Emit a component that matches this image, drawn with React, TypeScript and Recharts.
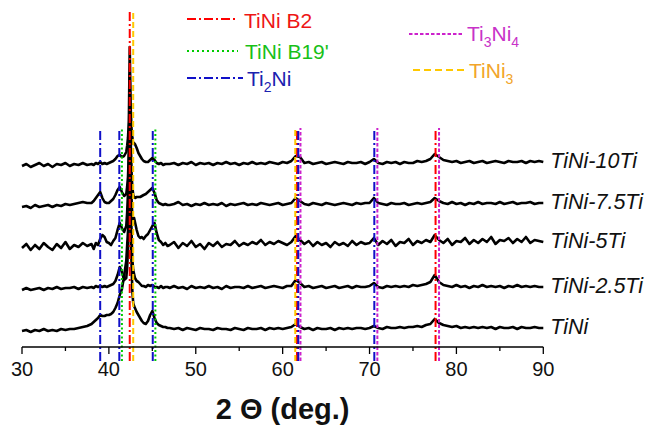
import React from 'react';
import { ComposedChart, Line, XAxis, YAxis, ReferenceLine, Legend, Label } from 'recharts';

// 2θ positions (deg.)
const twoTheta = [
  30, 30.5, 31, 31.5, 32, 32.5, 33, 33.5, 34, 34.5, 35, 35.5, 36, 36.5, 37, 37.5,
  38, 38.25, 38.5, 38.75, 39, 39.25, 39.5, 39.75, 40, 40.25, 40.5, 40.75, 41, 41.25, 41.5, 41.75,
  42, 42.1, 42.2, 42.3, 42.4, 42.5, 42.6, 42.7, 42.8, 42.9, 43, 43.2, 43.4, 43.6, 43.8,
  44, 44.25, 44.5, 44.75, 45, 45.25, 45.5, 45.75, 46, 46.25, 46.5, 46.75,
  47, 47.5, 48, 48.5, 49, 49.5, 50, 50.5, 51, 51.5,
  52, 52.5, 53, 53.5, 54, 54.5, 55, 55.5, 56, 56.5,
  57, 57.5, 58, 58.5, 59, 59.5, 60, 60.5, 61,
  61.5, 62,
  62.5, 63, 63.5, 64, 64.5, 65, 65.5, 66, 66.5,
  67, 67.5, 68, 68.5, 69, 69.5, 70,
  70.5,
  71, 71.5, 72, 72.5, 73, 73.5, 74, 74.5, 75, 75.5, 76, 76.5, 77,
  77.5, 78,
  78.5, 79, 79.5, 80, 80.5, 81, 81.5, 82, 82.5, 83, 83.5, 84, 84.5, 85, 85.5, 86, 86.5, 87, 87.5, 88, 88.5, 89, 89.5, 90,
];

// intensities (a.u., relative to each pattern's own baseline)
const tiNi10Ti = [
  0, 2, -1, 1, 3, 0, 2, -1, 2, 1, 3, 0, 2, 1, 3, 1,
  2, 1, 3, 2, 4, 2, 3, 2, 3, 4, 5, 7, 10, 11, 9, 10,
  14, 20, 28, 45, 119, 60, 38, 28, 22, 23, 22, 18, 13, 10, 7,
  5, 4, 4, 6, 8, 6, 3, 2, 3, 1, 2, 2,
  2, 3, 1, 3, 2, 4, 1, 3, 2, 3,
  1, 3, 2, 4, 2, 3, 1, 3, 2, 4,
  2, 3, 2, 4, 3, 2, 4, 3, 5,
  10, 9,
  3, 4, 2, 3, 4, 2, 3, 4, 3,
  2, 4, 3, 3, 4, 2, 4,
  7,
  3, 2, 4, 3, 4, 2, 4, 3, 3, 5, 4, 5, 7,
  12, 9,
  6, 5, 4, 5, 3, 4, 5, 3, 4, 5, 3, 4, 5, 4, 3, 5, 4, 4, 5, 3, 5, 4, 5, 4,
];
const tiNi75Ti = [
  0, 1, -1, 2, 0, 1, 2, 0, 2, 1, 3, 2, 3, 4, 5, 4,
  4, 6, 9, 12, 15, 9, 5, 4, 4, 6, 8, 12, 17, 20, 15, 11,
  13, 20, 30, 55, 132, 70, 35, 20, 12, 10, 9, 10, 10, 10, 11,
  12, 13, 15, 17, 19, 14, 7, 4, 3, 2, 3, 2,
  2, 3, 5, 2, 3, 1, 3, 2, 4, 2,
  3, 2, 4, 1, 3, 2, 3, 4, 2, 3,
  2, 4, 3, 2, 3, 4, 2, 3, 4,
  9, 6,
  3, 2, 4, 3, 2, 4, 3, 2, 3,
  4, 3, 2, 4, 3, 4, 4,
  9,
  4, 3, 2, 4, 3, 3, 4, 2, 3, 4, 3, 4, 5,
  9, 6,
  4, 3, 5, 3, 4, 2, 4, 3, 5, 3, 4, 4, 3, 5, 3, 4, 5, 3, 4, 4, 5, 3, 4, 4,
];
const tiNi5Ti = [
  0, 4, -2, 3, -1, 5, 1, -2, 4, 0, 6, -1, 3, 1, 5, 2,
  4, -1, 5, 3, 9, 13, 11, 6, 5, 3, 7, 10, 18, 25, 20, 16,
  22, 35, 55, 90, 128, 105, 50, 32, 28, 30, 26, 18, 12, 10, 11,
  9, 12, 14, 18, 22, 25, 15, 8, 6, 3, 5, 2,
  3, 6, 0, 5, 2, 7, 1, 4, -1, 5,
  2, 6, 1, 4, 3, 7, 2, 5, 3, 6,
  4, 8, 3, 6, 4, 7, 5, 3, 6,
  12, 8,
  4, 7, 2, 6, 3, 5, 1, 6, 3,
  5, 2, 7, 3, 6, 4, 5,
  10,
  3, 7, 4, 8, 2, 6, 5, 9, 3, 7, 5, 8, 6,
  13, 8,
  5, 9, 3, 7, 6, 10, 4, 8, 5, 9, 6, 11, 4, 8, 7, 10, 5, 9, 6, 11, 5, 8, 7, 6,
];
const tiNi25Ti = [
  0, 2, 0, 1, 2, 0, 2, 1, 3, 1, 2, 2, 3, 1, 3, 2,
  3, 2, 4, 3, 4, 3, 4, 3, 4, 5, 6, 9, 15, 23, 18, 10,
  12, 22, 40, 75, 120, 110, 60, 30, 20, 16, 12, 9, 8, 6, 4,
  4, 3, 5, 4, 5, 3, 3, 2, 4, 2, 3, 3,
  2, 4, 2, 3, 1, 4, 2, 3, 2, 4,
  2, 3, 1, 4, 2, 3, 3, 2, 4, 2,
  3, 4, 2, 3, 4, 3, 2, 4, 4,
  10, 7,
  3, 4, 2, 3, 4, 2, 3, 4, 2,
  3, 4, 2, 4, 3, 3, 4,
  7,
  3, 2, 4, 3, 4, 3, 4, 3, 5, 4, 5, 6, 8,
  15, 8,
  5, 4, 3, 5, 3, 4, 2, 4, 3, 5, 3, 4, 3, 4, 2, 4, 3, 5, 3, 4, 3, 4, 3, 3,
];
const tiNiBase = [
  0, 1, -1, 1, 0, 2, 0, 1, 0, 2, 1, 2, 2, 3, 4, 5,
  7, 9, 11, 13, 16, 15, 15, 16, 16, 17, 19, 23, 28, 36, 42, 55,
  70, 85, 100, 115, 131, 110, 70, 40, 28, 25, 23, 19, 16, 13, 10,
  8, 7, 10, 16, 20, 13, 8, 6, 5, 4, 4, 3,
  3, 2, 3, 1, 3, 2, 1, 3, 2, 2,
  1, 3, 2, 2, 1, 3, 2, 1, 3, 2,
  2, 3, 1, 3, 2, 3, 2, 3, 4,
  7, 4,
  2, 3, 1, 3, 2, 2, 3, 1, 3,
  2, 3, 2, 3, 3, 2, 3,
  5,
  3, 2, 4, 3, 3, 4, 3, 4, 4, 5, 4, 6, 7,
  12, 8,
  6, 5, 4, 5, 3, 4, 3, 4, 3, 4, 3, 4, 2, 4, 3, 3, 4, 2, 4, 3, 3, 4, 3, 3,
];

const sampleNames = ['TiNi', 'TiNi-2.5Ti', 'TiNi-5Ti', 'TiNi-7.5Ti', 'TiNi-10Ti'];
const sampleValues = [tiNiBase, tiNi25Ti, tiNi5Ti, tiNi75Ti, tiNi10Ti];
const stackOffsets = [16, 57, 99, 140, 181];

// reference peak positions (deg.)
const b2Peaks = [42.4, 61.65, 77.6];
const b19Peaks = [41.5, 45.35];
const ti2NiPeaks = [39.0, 41.2, 45.05, 61.8, 70.55];
const ti3Ni4Peaks = [62.05, 70.9, 78.0];
const tiNi3Peaks = [42.8, 61.45];
const strongPeaks = [42.4, 42.8];

const xTicks = [30, 35, 40, 45, 50, 55, 60, 65, 70, 75, 80, 85, 90];

const FONT = '"Liberation Sans", Arial, Helvetica, sans-serif';
const LINE_TOP = 219;
const TALL_TOP = 335;
const LINE_BOTTOM = -14;

const phases = [
  { name: 'B2', peaks: b2Peaks, color: '#ff0000', dash: '9 3 2 3' },
  { name: 'B19', peaks: b19Peaks, color: '#00cc00', dash: '2 2.5' },
  { name: 'Ti2Ni', peaks: ti2NiPeaks, color: '#1010c8', dash: '9 3 2 3' },
  { name: 'Ti3Ni4', peaks: ti3Ni4Peaks, color: '#cc22cc', dash: '3.5 2' },
  { name: 'TiNi3', peaks: tiNi3Peaks, color: '#ffc800', dash: '6 3' },
];

const data = twoTheta.map((x, i) => {
  const row: Record<string, number> = { x };
  sampleNames.forEach((n, k) => {
    row[n] = sampleValues[k][i] + stackOffsets[k];
  });
  return row;
});

const AxisTick = (props: any) => {
  const { x, y, payload } = props;
  const major = payload.value % 10 === 0;
  return (
    <g>
      <line x1={x} y1={y} x2={x} y2={y + (major ? 7 : 4)} stroke="#000" strokeWidth={1.3} />
      {major && (
        <text x={x} y={y + 29} textAnchor="middle" fontSize={20} fontFamily={FONT} fill="#111">
          {payload.value}
        </text>
      )}
    </g>
  );
};

const endLabel = (name: string) => (props: any) => {
  const { x, y, index } = props;
  if (index !== twoTheta.length - 1) return null;
  return (
    <text
      key={name}
      x={x + 7}
      y={y - 2}
      dy="0.36em"
      fontSize={21.5}
      fontStyle="italic"
      fontFamily={FONT}
      fill="#111"
    >
      {name}
    </text>
  );
};

const LegendBox = () => (
  <svg width={652} height={100} style={{ display: 'block' }}>
    <g fontFamily={FONT} fontSize={21}>
      <line x1={187} y1={19} x2={238} y2={19} stroke="#ff0000" strokeWidth={2} strokeDasharray="9 3 2 3" />
      <text x={244} y={27.5} fill="#ee1515">TiNi B2</text>
      <line x1={187} y1={51} x2={238} y2={51} stroke="#00cc00" strokeWidth={2.2} strokeDasharray="2 3" />
      <text x={245} y={58.5} fill="#18c018">TiNi B19'</text>
      <line x1={187} y1={78} x2={243} y2={78} stroke="#1010c8" strokeWidth={2} strokeDasharray="9 3 2 3" />
      <text x={247} y={85.5} fill="#1a22b0">
        Ti<tspan fontSize={14} dy={6}>2</tspan><tspan dy={-6}>Ni</tspan>
      </text>
      <line x1={409} y1={34} x2={463} y2={34} stroke="#cc22cc" strokeWidth={2} strokeDasharray="3.5 2" />
      <text x={467} y={41} fill="#c832c8">
        Ti<tspan fontSize={14} dy={6}>3</tspan><tspan dy={-6}>Ni</tspan><tspan fontSize={14} dy={6}>4</tspan>
      </text>
      <line x1={413} y1={70} x2={465} y2={70} stroke="#ffc800" strokeWidth={2} strokeDasharray="7 4" />
      <text x={469} y={78} fill="#f2a52a">
        TiNi<tspan fontSize={14} dy={6}>3</tspan>
      </text>
    </g>
  </svg>
);

export default function App() {
  return (
    <div style={{ position: 'absolute', left: 0, top: 0, width: 652, height: 427, background: '#fff' }}>
      <ComposedChart
        width={652}
        height={427}
        data={data}
        margin={{ top: 10, right: 108.7, bottom: 0, left: 22 }}
      >
        <XAxis
          dataKey="x"
          type="number"
          domain={[30, 90]}
          ticks={xTicks}
          interval={0}
          tickSize={0}
          tickMargin={0}
          tickLine={false}
          tick={<AxisTick />}
          axisLine={{ stroke: '#000', strokeWidth: 1.3 }}
          height={80}
        >
          <Label
            content={(p: any) => (
              <text
                x={p.viewBox.x + p.viewBox.width / 2}
                y={p.viewBox.y + 72}
                textAnchor="middle"
                fontSize={29}
                fontWeight="bold"
                fontFamily={FONT}
                fill="#111"
              >
                2 Θ (deg.)
              </text>
            )}
          />
        </XAxis>
        <YAxis type="number" domain={[0, 337]} hide />
        <Legend
          layout="horizontal"
          verticalAlign="middle"
          align="center"
          content={<LegendBox />}
          wrapperStyle={{ position: 'absolute', left: 0, top: 0, width: 652, height: 100 }}
        />
        {sampleNames.map((n) => (
          <Line
            key={n}
            dataKey={n}
            type="linear"
            stroke="#000"
            strokeWidth={2.6}
            strokeLinejoin="round"
            dot={false}
            activeDot={false}
            isAnimationActive={false}
            label={endLabel(n)}
          />
        ))}
        {phases.flatMap((ph) =>
          ph.peaks.map((p) => (
            <ReferenceLine
              key={ph.name + p}
              segment={[
                { x: p, y: LINE_BOTTOM },
                { x: p, y: strongPeaks.includes(p) ? TALL_TOP : LINE_TOP },
              ]}
              ifOverflow="visible"
              stroke={ph.color}
              strokeWidth={2}
              strokeDasharray={ph.dash}
            />
          ))
        )}
      </ComposedChart>
    </div>
  );
}
